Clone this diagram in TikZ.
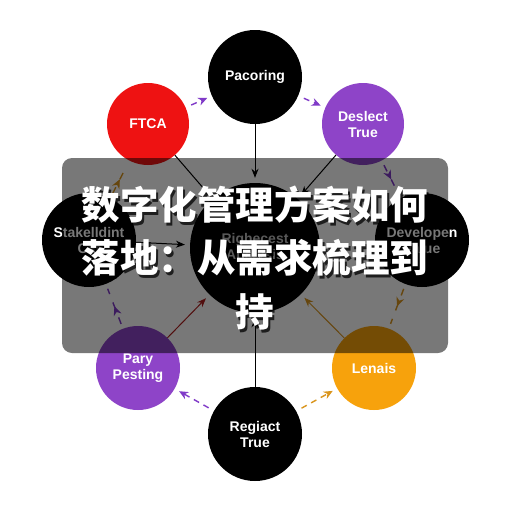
\documentclass[tikz,border=0pt]{standalone}
\usepackage{fontspec}
\setmainfont{Liberation Sans}
\newfontfamily\cjk{Noto Sans CJK SC}
\usetikzlibrary{arrows.meta,decorations.markings}
\definecolor{cred}{RGB}{238,18,18}
\definecolor{cpurple}{RGB}{142,68,200}
\definecolor{corange}{RGB}{247,162,12}
\definecolor{carrowp}{RGB}{128,58,200}
\definecolor{carrowo}{RGB}{218,150,30}
\definecolor{cdred}{RGB}{175,30,30}
\tikzset{
  bubble/.style={circle, inner sep=0pt, text=white, align=center,
    font=\fontsize{14}{16}\selectfont\bfseries},
  solidarr/.style={-{Stealth[length=9pt,width=7pt]}, line width=1pt, shorten >=5pt},
  dasharr/.style={line width=1.4pt, dash pattern=on 6pt off 5pt,
    -{Stealth[length=9pt,width=8pt]}, shorten <=6pt, shorten >=5pt},
  midarr/.style={line width=1.4pt, dash pattern=on 7pt off 9pt, shorten <=5pt, shorten >=5pt,
    postaction={decorate},
    decoration={markings, mark=at position 0.5 with {\arrow{Stealth[length=9pt,width=8pt]}}}},
  titletext/.style={align=center, inner sep=0pt,
    font=\cjk\bfseries\fontsize{38.5}{53.5}\selectfont}
}
\begin{document}
\begin{tikzpicture}[x=1pt,y=-1pt]
\useasboundingbox (0,0) rectangle (512,512);
\fill[white] (0,0) rectangle (512,512);

% nodes
\node[bubble, fill=black, minimum size=94] (pac) at (255,77) {Pacoring};
\node[bubble, fill=cred, minimum size=82] (ftca) at (148,124) {FTCA};
\node[bubble, fill=cpurple, minimum size=82] (des) at (363,124) {Deslect\\True};
\node[bubble, fill=black, minimum size=94] (stk) at (89,240) {Stakelldint\\Cat};
\node[bubble, fill=black, minimum size=130] (cen) at (255,248) {\textcolor{black!25}{Righecest}\\\textcolor{black!25}{Analysis}};
\node[bubble, fill=black, minimum size=94] (dev) at (422,240) {Developen\\Value};
\node[bubble, fill=cpurple, minimum size=84] (par) at (138,368) {Pary\\Pesting};
\node[bubble, fill=corange, minimum size=84] (len) at (374,368) {Lenais};
\node[bubble, fill=black, minimum size=94] (reg) at (255,434) {Regiact\\True};

% solid connectors to centre
\draw[solidarr, black] (pac) -- (cen);
\draw[solidarr, black] (ftca) -- (cen);
\draw[solidarr, black] (des) -- (cen);
\draw[solidarr, black] (stk) -- (cen);
\draw[solidarr, cdred] (par) -- (cen);
\draw[solidarr, carrowo] (len) -- (cen);
\draw[solidarr, black] (reg) -- (cen);

% dashed ring connectors
\draw[dasharr, carrowp] (ftca) -- (pac);
\draw[dasharr, carrowp] (pac) -- (des);
\draw[midarr, carrowp] (des) -- (dev);
\draw[midarr, carrowo] (dev) -- (len);
\draw[dasharr, carrowo] (reg) -- (len);
\draw[dasharr, carrowp] (reg) -- (par);
\draw[midarr, carrowp] (par) -- (stk);
\draw[midarr, carrowo] (stk) -- (ftca);

% overlay
\fill[black, opacity=0.53, rounded corners=10pt] (62,158) rectangle (448,353);
\node[titletext, text=black, opacity=0.75] (ttlshadow) at (257,261)
  {数字化管理方案如何\\落地：从需求梳理到\\持};
\node[titletext, text=white] (ttl) at (255,258)
  {数字化管理方案如何\\落地：从需求梳理到\\持};
\end{tikzpicture}
\end{document}
